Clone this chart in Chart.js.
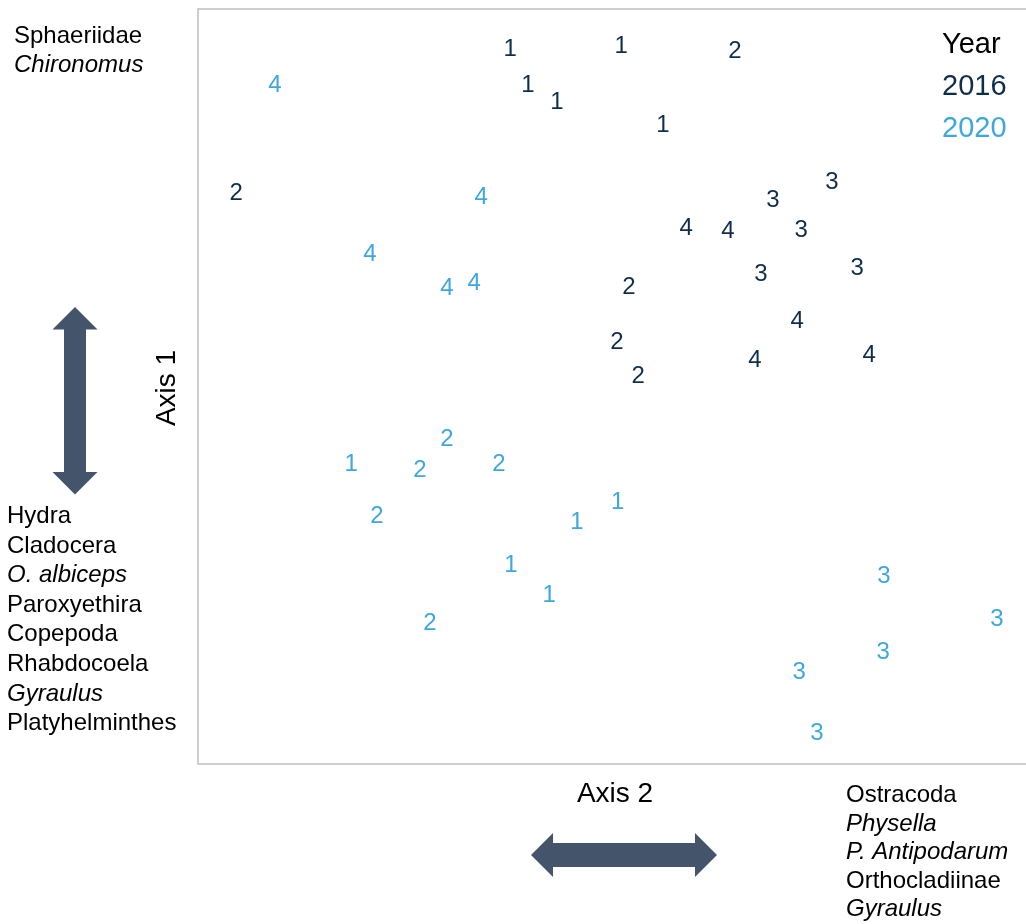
<!DOCTYPE html>
<html>
<head>
<meta charset="utf-8">
<title>Ordination of invertebrate communities, 2016 and 2020</title>
<script src="https://cdn.jsdelivr.net/npm/chart.js@4/dist/chart.umd.min.js"></script>
<style>
  html, body { margin: 0; padding: 0; background: #ffffff; }
  canvas { display: block; }
</style>
</head>
<body>
<canvas id="ord" width="1026" height="924"></canvas>
<script>
// Site scores on the two ordination axes, labelled by site group
const years = ['2016', '2020'];
const yearColors = ['#0f2d4c', '#3da7de'];

const group2016 = ['1','1','1','1','1','2','2','2','2','2','3','3','3','3','3','4','4','4','4','4'];
const axis2Scores2016 = [-0.246, 0.022, -0.203, -0.133, 0.123, 0.297, -0.908, 0.041, 0.012, 0.063, 0.531, 0.389, 0.457, 0.360, 0.592, 0.179, 0.280, 0.447, 0.345, 0.621];
const axis1Scores2016 = [0.899, 0.905, 0.804, 0.759, 0.698, 0.894, 0.518, 0.269, 0.123, 0.033, 0.547, 0.497, 0.420, 0.303, 0.319, 0.423, 0.415, 0.179, 0.075, 0.089];

const group2020 = ['1','1','1','1','1','2','2','2','2','2','3','3','3','3','3','4','4','4','4','4'];
const axis2Scores2020 = [-0.630, -0.085, 0.014, -0.244, -0.152, -0.399, -0.464, -0.273, -0.568, -0.440, 0.657, 0.930, 0.655, 0.452, 0.495, -0.814, -0.316, -0.585, -0.399, -0.333];
const axis1Scores2020 = [-0.200, -0.354, -0.301, -0.468, -0.547, -0.136, -0.216, -0.200, -0.340, -0.621, -0.497, -0.611, -0.698, -0.751, -0.913, 0.804, 0.507, 0.356, 0.266, 0.279];

// Taxa associated with each end of the axes
const taxaAxis1High = [['Sphaeriidae', false], ['Chironomus', true]];
const taxaAxis1Low = [['Hydra', false], ['Cladocera', false], ['O. albiceps', true], ['Paroxyethira', false],
                      ['Copepoda', false], ['Rhabdocoela', false], ['Gyraulus', true], ['Platyhelminthes', false]];
const taxaAxis2High = [['Ostracoda', false], ['Physella', true], ['P. Antipodarum', true], ['Orthocladiinae', false], ['Gyraulus', true]];

const FONT = '"Liberation Sans", Arial, Helvetica, sans-serif';
const ARROW = '#44546a';

function points(xs, ys) {
  return xs.map((x, i) => ({ x: x, y: ys[i] }));
}

// Draws each site's group number at the point position given by the scales
const groupLabelPlugin = {
  id: 'groupLabels',
  afterDatasetsDraw(chart) {
    const ctx = chart.ctx;
    ctx.save();
    ctx.font = '24px ' + FONT;
    ctx.textAlign = 'center';
    ctx.textBaseline = 'alphabetic';
    chart.data.datasets.forEach((ds, di) => {
      const meta = chart.getDatasetMeta(di);
      ctx.fillStyle = ds.borderColor;
      meta.data.forEach((el, i) => {
        ctx.fillText(ds.groups[i], el.x, el.y + 8.6);
      });
    });
    ctx.restore();
  }
};

function textList(ctx, items, x, y0, step, size) {
  items.forEach((it, i) => {
    ctx.font = (it[1] ? 'italic ' : '') + size + 'px ' + FONT;
    ctx.fillText(it[0], x, y0 + i * step);
  });
}

// Frame, axis titles, arrows, taxa lists and year key
const decorPlugin = {
  id: 'decor',
  beforeDatasetsDraw(chart) {
    const { ctx, chartArea: a } = chart;
    ctx.save();
    ctx.strokeStyle = '#bfbfbf';
    ctx.lineWidth = 1.5;
    ctx.beginPath();
    ctx.moveTo(a.right, a.top);
    ctx.lineTo(a.left, a.top);
    ctx.lineTo(a.left, a.bottom);
    ctx.lineTo(a.right, a.bottom);
    ctx.stroke();
    ctx.restore();
  },
  afterDraw(chart) {
    const ctx = chart.ctx;
    ctx.save();
    ctx.fillStyle = '#000000';
    ctx.textBaseline = 'alphabetic';
    ctx.textAlign = 'left';

    textList(ctx, taxaAxis1High, 14, 43, 29, 24);
    textList(ctx, taxaAxis1Low, 7, 523, 29.6, 24);
    textList(ctx, taxaAxis2High, 846, 802, 28.6, 24);

    // Axis titles
    ctx.font = '28px ' + FONT;
    ctx.textAlign = 'center';
    ctx.fillText('Axis 2', 615, 802);
    ctx.save();
    ctx.translate(175, 388);
    ctx.rotate(-Math.PI / 2);
    ctx.fillText('Axis 1', 0, 0);
    ctx.restore();

    // Double-headed arrows
    ctx.fillStyle = ARROW;
    ctx.beginPath();
    ctx.moveTo(75, 307);
    ctx.lineTo(97.5, 329.5);
    ctx.lineTo(86, 329.5);
    ctx.lineTo(86, 472);
    ctx.lineTo(97.5, 472);
    ctx.lineTo(75, 494.5);
    ctx.lineTo(52.5, 472);
    ctx.lineTo(64, 472);
    ctx.lineTo(64, 329.5);
    ctx.lineTo(52.5, 329.5);
    ctx.closePath();
    ctx.fill();

    ctx.beginPath();
    ctx.moveTo(531, 855);
    ctx.lineTo(553, 833);
    ctx.lineTo(553, 843);
    ctx.lineTo(695, 843);
    ctx.lineTo(695, 833);
    ctx.lineTo(717, 855);
    ctx.lineTo(695, 877);
    ctx.lineTo(695, 867);
    ctx.lineTo(553, 867);
    ctx.lineTo(553, 877);
    ctx.closePath();
    ctx.fill();

    // Year key
    ctx.textAlign = 'left';
    ctx.font = '29px ' + FONT;
    ctx.fillStyle = '#000000';
    ctx.fillText('Year', 942, 53);
    chart.data.datasets.forEach((ds, i) => {
      ctx.fillStyle = ds.borderColor;
      ctx.fillText(ds.label, 942, 95 + i * 42);
    });
    ctx.restore();
  }
};

new Chart(document.getElementById('ord'), {
  type: 'scatter',
  data: {
    datasets: [
      { label: years[0], data: points(axis2Scores2016, axis1Scores2016), groups: group2016,
        borderColor: yearColors[0], backgroundColor: yearColors[0], pointRadius: 0, pointHoverRadius: 0 },
      { label: years[1], data: points(axis2Scores2020, axis1Scores2020), groups: group2020,
        borderColor: yearColors[1], backgroundColor: yearColors[1], pointRadius: 0, pointHoverRadius: 0 }
    ]
  },
  options: {
    responsive: false,
    animation: false,
    devicePixelRatio: 1,
    layout: { padding: { left: 198, top: 9, right: 0, bottom: 160 } },
    scales: {
      x: { type: 'linear', min: -1, max: 1, display: false },
      y: { type: 'linear', min: -1, max: 1, display: false }
    },
    plugins: {
      legend: { display: false },
      tooltip: { enabled: false }
    },
    events: []
  },
  plugins: [decorPlugin, groupLabelPlugin]
});
</script>
</body>
</html>
